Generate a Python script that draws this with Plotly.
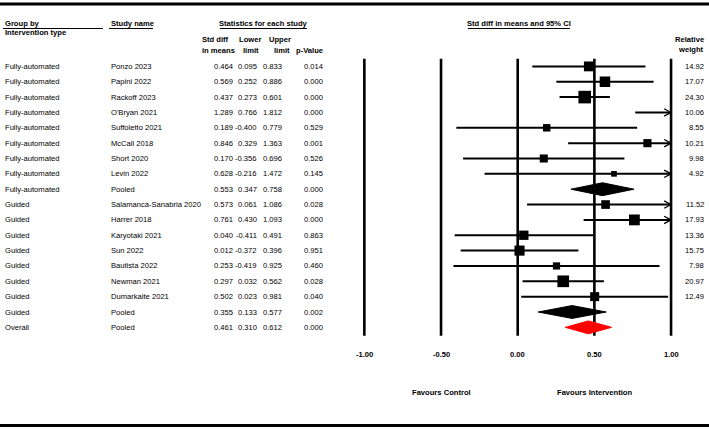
import plotly.graph_objects as go

# forest plot data, one entry per row (top to bottom)
groups = ["Fully-automated"] * 9 + ["Guided"] * 8 + ["Overall"]
studies = ["Ponzo 2023", "Papini 2022", "Rackoff 2023", "O'Bryan 2021", "Suffoletto 2021",
           "McCall 2018", "Short 2020", "Levin 2022", "Pooled",
           "Salamanca-Sanabria 2020", "Harrer 2018", "Karyotaki 2021", "Sun 2022",
           "Bautista 2022", "Newman 2021", "Dumarkaite 2021", "Pooled", "Pooled"]
smd = [0.464, 0.569, 0.437, 1.289, 0.189, 0.846, 0.170, 0.628, 0.553,
       0.573, 0.761, 0.040, 0.012, 0.253, 0.297, 0.502, 0.355, 0.461]
lower = [0.095, 0.252, 0.273, 0.766, -0.400, 0.329, -0.356, -0.216, 0.347,
         0.061, 0.430, -0.411, -0.372, -0.419, 0.032, 0.023, 0.133, 0.310]
upper = [0.833, 0.886, 0.601, 1.812, 0.779, 1.363, 0.696, 1.472, 0.758,
         1.086, 1.093, 0.491, 0.396, 0.925, 0.562, 0.981, 0.577, 0.612]
pvalues = ["0.014", "0.000", "0.000", "0.000", "0.529", "0.001", "0.526", "0.145", "0.000",
           "0.028", "0.000", "0.863", "0.951", "0.460", "0.028", "0.040", "0.002", "0.000"]
weights = [14.92, 17.07, 24.30, 10.06, 8.55, 10.21, 9.98, 4.92, None,
           11.52, 17.93, 13.36, 15.75, 7.98, 20.97, 12.49, None, None]
pooled_colors = {8: "black", 16: "black", 17: "red"}
tick_vals = [-1.0, -0.5, 0.0, 0.5, 1.0]
x_min, x_max = -1.0, 1.0

# page geometry (pixels)
W, H = 709, 429
ROW0, ROWH = 66.4, 15.35
PX_ZERO, PX_UNIT = 517.7, 153.35
FONT = "Liberation Sans, Arial, sans-serif"
FS = 7.6


def px(x):
    return x / W


def py(y):
    return 1 - y / H


rows = list(range(len(studies)))
fig = go.Figure()

# vertical reference lines
for v in tick_vals:
    fig.add_shape(type="line", xref="x", yref="y", x0=v, x1=v, y0=-0.5, y1=len(rows) - 0.45,
                  line=dict(color="black", width=2.6), layer="below")

# confidence interval lines for studies
for r in rows:
    if r in pooled_colors:
        continue
    lo = max(lower[r], x_min)
    hi = min(upper[r], x_max)
    fig.add_trace(go.Scatter(x=[lo, hi], y=[r, r], mode="lines",
                             line=dict(color="black", width=2), hoverinfo="skip"))
    if upper[r] > x_max:
        # open arrowhead where the interval runs past the axis
        fig.add_trace(go.Scatter(x=[hi - 0.045, hi, hi - 0.045], y=[r - 0.24, r, r + 0.24],
                                 mode="lines", line=dict(color="black", width=1.3),
                                 hoverinfo="skip"))

# study squares (size from relative weight)
sq_x, sq_y, sq_s = [], [], []
for r in rows:
    if weights[r] is None or smd[r] > x_max:
        continue
    sq_x.append(smd[r])
    sq_y.append(r)
    sq_s.append(2.55 * weights[r] ** 0.5)
fig.add_trace(go.Scatter(x=sq_x, y=sq_y, mode="markers",
                         marker=dict(symbol="square", size=sq_s, color="black",
                                     opacity=1, line=dict(width=0))))

# pooled diamonds
for r, col in pooled_colors.items():
    fig.add_trace(go.Scatter(x=[lower[r], smd[r], upper[r], smd[r], lower[r]],
                             y=[r, r - 0.42, r, r + 0.42, r],
                             mode="lines", fill="toself", fillcolor=col,
                             line=dict(color=col, width=1)))

ann = []


def text(x, y, s, anchor="left", bold=False, yref="y"):
    ann.append(dict(x=x, y=y, xref="paper", yref=yref, text="<b>%s</b>" % s if bold else s,
                    showarrow=False, xanchor=anchor, yanchor="middle",
                    font=dict(family=FONT, size=FS, color="black")))


# table rows
for r in rows:
    text(px(3), r, groups[r])
    text(px(109), r, studies[r])
    text(px(234.5), r, "%.3f" % smd[r], "right")
    text(px(259), r, "%.3f" % lower[r], "right")
    text(px(284), r, "%.3f" % upper[r], "right")
    text(px(324.5), r, pvalues[r], "right")
    if weights[r] is not None:
        text(px(706), r, "%.2f" % weights[r], "right")

# headers
text(px(3), py(24), "Group by", bold=True, yref="paper")
text(px(3), py(33), "Intervention type", bold=True, yref="paper")
text(px(109), py(24), "Study name", bold=True, yref="paper")
text(px(263.5), py(24), "Statistics for each study", "center", True, "paper")
text(px(519), py(24), "Std diff in means and 95% CI", "center", True, "paper")
text(px(215.5), py(40), "Std diff", "center", True, "paper")
text(px(218), py(50.5), "in means", "center", True, "paper")
text(px(249.5), py(40), "Lower", "center", True, "paper")
text(px(251), py(50.5), "limit", "center", True, "paper")
text(px(280), py(40), "Upper", "center", True, "paper")
text(px(282), py(50.5), "limit", "center", True, "paper")
text(px(324.5), py(50.5), "p-Value", "right", True, "paper")
text(px(706), py(40), "Relative", "right", True, "paper")
text(px(706), py(49.5), "weight", "right", True, "paper")

# axis tick labels and favours labels
for v in tick_vals:
    ann.append(dict(x=v, y=py(354), xref="x", yref="paper", text="<b>%.2f</b>" % v,
                    showarrow=False, xanchor="center", yanchor="middle",
                    font=dict(family=FONT, size=FS, color="black")))
for v, s in [(-0.5, "Favours Control"), (0.5, "Favours Intervention")]:
    ann.append(dict(x=v, y=py(392), xref="x", yref="paper", text="<b>%s</b>" % s,
                    showarrow=False, xanchor="center", yanchor="middle",
                    font=dict(family=FONT, size=FS, color="black")))

# header underlines and page rules
for x0, x1 in [(3, 103), (109, 153), (220, 307), (468, 570)]:
    fig.add_shape(type="line", xref="paper", yref="paper", x0=px(x0), x1=px(x1),
                  y0=py(28.5), y1=py(28.5), line=dict(color="black", width=1))
for y in [4, 425.5]:
    fig.add_shape(type="line", xref="paper", yref="paper", x0=0, x1=1,
                  y0=py(y), y1=py(y), line=dict(color="black", width=3))

fig.update_layout(
    width=W, height=H,
    margin=dict(l=0, r=0, t=0, b=0),
    paper_bgcolor="white", plot_bgcolor="white",
    showlegend=False,
    annotations=ann,
    xaxis=dict(range=[-PX_ZERO / PX_UNIT, (W - PX_ZERO) / PX_UNIT], visible=False),
    yaxis=dict(range=[(H - ROW0) / ROWH, -ROW0 / ROWH], visible=False),
)

fig.write_html("out.html", config={"displayModeBar": False},
               post_script="document.body.style.margin = '0';")
